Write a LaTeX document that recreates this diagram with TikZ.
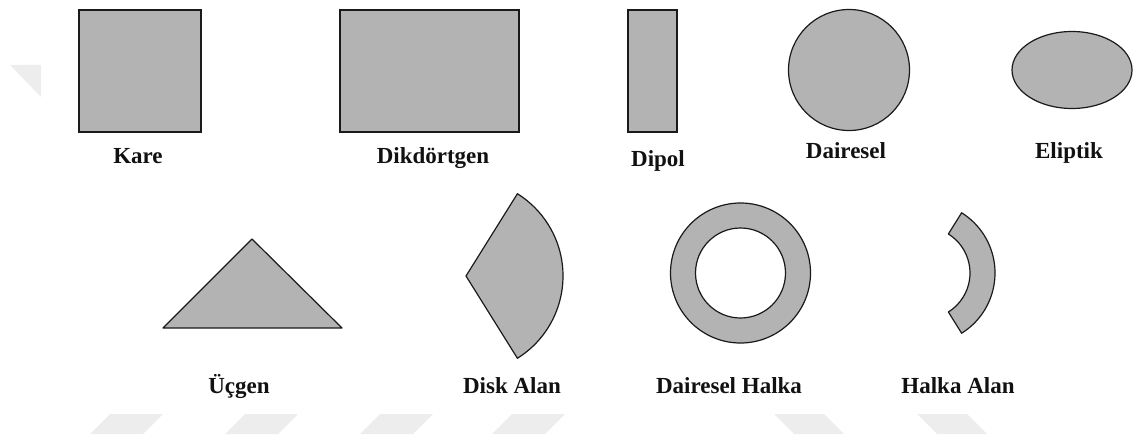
\documentclass[tikz,border=0pt]{standalone}
\usepackage{fontspec}
\setmainfont{Liberation Serif}
\usepackage{xcolor}
\definecolor{ShapeFill}{HTML}{B3B3B3}
\definecolor{ShapeLine}{HTML}{1A1A1A}
\definecolor{TextDark}{HTML}{111111}
\definecolor{MarkFaint}{HTML}{EDEDED}

\tikzset{
  rectarea/.style={fill=ShapeFill, draw=ShapeLine, line width=1.8pt},
  curvearea/.style={fill=ShapeFill, draw=ShapeLine, line width=1.2pt, line join=round},
  shapename/.style={anchor=base, text=TextDark, font=\bfseries\fontsize{23}{27}\selectfont, inner sep=0pt}
}

\begin{document}
\begin{tikzpicture}[x=1pt, y=1pt]
		\useasboundingbox (0,0) rectangle (1134,440);
		
		% Faint marks
		\fill[MarkFaint] (10,375) -- (41,375) -- (41,343) -- cycle;
		\foreach \x in {90,225,360,492}
			\fill[MarkFaint] (\x,6) -- ++(53,0) -- ++(20,20) -- ++(-53,0) -- cycle;
		\foreach \x in {774,917}
			\fill[MarkFaint] (\x,26) -- ++(50,0) -- ++(20,-20) -- ++(-50,0) -- cycle;
		
		% Row 1
		\draw[rectarea] (79,430) rectangle (201,308);
		\draw[rectarea] (340,430) rectangle (519,308);
		\draw[rectarea] (628,430) rectangle (677,308);
		\draw[curvearea] (849,370) circle[radius=60.5];
		\draw[curvearea] (1072,370) ellipse[x radius=60, y radius=38.5];
		
		% Row 2
		\draw[curvearea] (163,112) -- (342,112) -- (252,201) -- cycle;
		\draw[curvearea] (466,164) -- ++(-58:97) arc[start angle=-58, end angle=58, radius=97] -- cycle;
		\draw[curvearea, even odd rule] (740.5,167) circle[radius=70] (740.5,167) circle[radius=45];
		\draw[curvearea] (924,167) ++(-58:71) arc[start angle=-58, end angle=58, radius=71]
			-- ++(238:25) arc[start angle=58, end angle=-58, radius=46] -- cycle;
		
		% Labels
		\node[shapename] (kare) at (138,277) {Kare};
		\node[shapename] (dikdortgen) at (433,277) {Dikdörtgen};
		\node[shapename] (dipol) at (658,274) {Dipol};
		\node[shapename] (dairesel) at (846,282) {Dairesel};
		\node[shapename] (eliptik) at (1069,282) {Eliptik};
		\node[shapename] (ucgen) at (239,47) {Üçgen};
		\node[shapename] (disk) at (512,47) {Disk Alan};
		\node[shapename] (halka) at (729,47) {Dairesel Halka};
		\node[shapename] (halkaalan) at (958,47) {Halka Alan};
	\end{tikzpicture}
\end{document}
